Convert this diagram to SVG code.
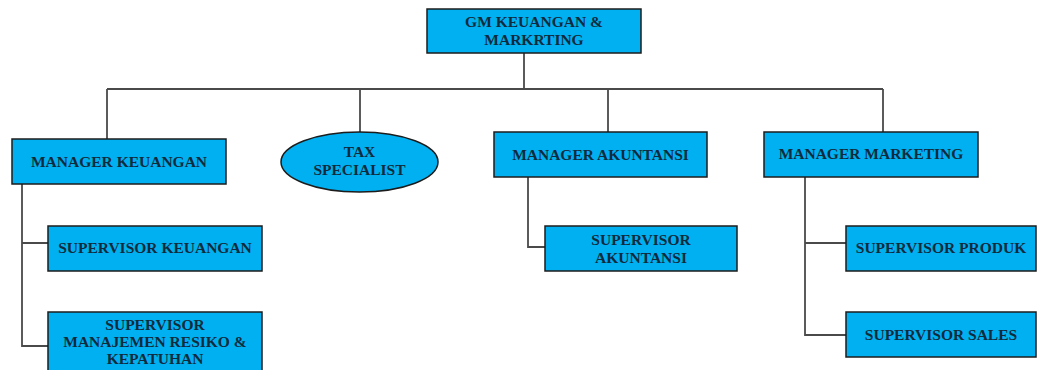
<svg xmlns="http://www.w3.org/2000/svg" width="1037" height="370" viewBox="0 0 1037 370">
  <style>
    .box { fill: #00b0f0; stroke: #1c1c1c; stroke-width: 1.5; }
    .lbl { font-family: "Liberation Serif", "Times New Roman", serif; font-size: 15.5px; font-weight: bold; fill: #0f2a3c; text-anchor: middle; }
    .wire { fill: none; stroke: #4a4a4a; stroke-width: 1.8; }
  </style>
  <rect width="1037" height="370" fill="#ffffff"/>

  <!-- connectors -->
  <g id="connectors">
    <path class="wire" d="M524 53 V89 M107 89 H883 M107 89 V139 M360 89 V132 M608 89 V132 M883 89 V132"/>
    <path class="wire" d="M22 184 V346 H48 M22 243 H48"/>
    <path class="wire" d="M528 177 V247 H545"/>
    <path class="wire" d="M805 177 V335 H846 M805 243 H846"/>
  </g>

  <g id="gm">
    <rect class="box" x="427" y="9" width="214" height="44"/>
    <text class="lbl" x="534" y="27">GM KEUANGAN &amp;</text>
    <text class="lbl" x="534" y="45">MARKRTING</text>
  </g>

  <g id="manager-keuangan">
    <rect class="box" x="12" y="139" width="214" height="45"/>
    <text class="lbl" x="119" y="167">MANAGER KEUANGAN</text>
  </g>

  <g id="tax-specialist">
    <ellipse class="box" cx="359.5" cy="162" rx="78.5" ry="30"/>
    <text class="lbl" x="359.5" y="157">TAX</text>
    <text class="lbl" x="359.5" y="175">SPECIALIST</text>
  </g>

  <g id="manager-akuntansi">
    <rect class="box" x="494" y="132" width="213" height="45"/>
    <text class="lbl" x="600.5" y="160">MANAGER AKUNTANSI</text>
  </g>

  <g id="manager-marketing">
    <rect class="box" x="764" y="132" width="214" height="45"/>
    <text class="lbl" x="871" y="159">MANAGER MARKETING</text>
  </g>

  <g id="supervisor-keuangan">
    <rect class="box" x="48" y="226" width="214" height="45"/>
    <text class="lbl" x="155" y="253">SUPERVISOR KEUANGAN</text>
  </g>

  <g id="supervisor-manajemen-resiko">
    <rect class="box" x="48" y="312" width="214" height="70"/>
    <text class="lbl" x="155" y="330">SUPERVISOR</text>
    <text class="lbl" x="155" y="347">MANAJEMEN RESIKO &amp;</text>
    <text class="lbl" x="155" y="364">KEPATUHAN</text>
  </g>

  <g id="supervisor-akuntansi">
    <rect class="box" x="545" y="226" width="192" height="45"/>
    <text class="lbl" x="641" y="245">SUPERVISOR</text>
    <text class="lbl" x="641" y="263">AKUNTANSI</text>
  </g>

  <g id="supervisor-produk">
    <rect class="box" x="846" y="226" width="190" height="45"/>
    <text class="lbl" x="941" y="253">SUPERVISOR PRODUK</text>
  </g>

  <g id="supervisor-sales">
    <rect class="box" x="846" y="312" width="190" height="45"/>
    <text class="lbl" x="941" y="340">SUPERVISOR SALES</text>
  </g>
</svg>
